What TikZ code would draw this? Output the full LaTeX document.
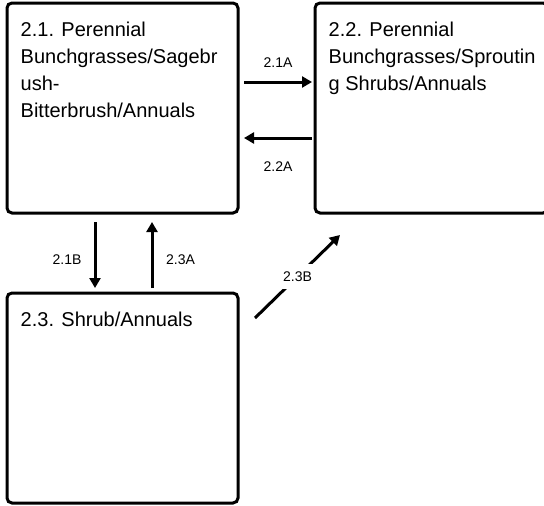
\documentclass[tikz,border=0pt]{standalone}
\usepackage{fontspec}
\setmainfont{Liberation Sans}
\usetikzlibrary{positioning,arrows.meta}
\begin{document}
\begin{tikzpicture}
[x=1pt, y=-1pt,
state/.style={draw, line width=3pt, rounded corners=5pt, minimum width=231pt, minimum height=210pt, inner sep=0pt, outer sep=0pt},
stext/.style={inner sep=0pt, align=left, font=\fontsize{20}{27}\selectfont},
flow/.style={line width=3pt, -{Triangle[length=10pt,width=11pt]}},
lbl/.style={font=\fontsize{14}{16}\selectfont, inner sep=2pt}
]
\useasboundingbox (0,0) rectangle (544,506);
\clip (0,0) rectangle (544,506);
\node[state] (s21) at (122.5,108) {};
\node[state, minimum width=233pt] (s22) at (431.5,108) {};
\node[state] (s23) at (122.5,398) {};
\node[stext, below right=19pt and 13.5pt of s21.north west] (t21) {2.1. Perennial\\Bunchgrasses/Sagebr\\ush-\\Bitterbrush/Annuals};
\node[stext, below right=19pt and 13.5pt of s22.north west] (t22) {2.2. Perennial\\Bunchgrasses/Sproutin\\g Shrubs/Annuals};
\node[stext, below right=19pt and 13.5pt of s23.north west] (t23) {2.3. Shrub/Annuals};
\draw[flow] ([xshift=6pt,yshift=26pt]s21.east) -- node[lbl,yshift=19pt] (a21a) {2.1A} ([xshift=-3pt,yshift=26pt]s22.west);
\draw[flow] ([xshift=-3pt,yshift=-30pt]s22.west) -- node[lbl,yshift=-29pt] (a22a) {2.2A} ([xshift=6pt,yshift=-30pt]s21.east);
\draw[flow] ([xshift=-27.5pt,yshift=-9pt]s21.south) -- node[lbl,xshift=-28pt,yshift=-5pt] (a21b) {2.1B} ([xshift=-27.5pt,yshift=5pt]s23.north);
\draw[flow] ([xshift=29.5pt,yshift=5pt]s23.north) -- node[lbl,xshift=28.5pt,yshift=-5pt] (a23a) {2.3A} ([xshift=29.5pt,yshift=-9pt]s21.south);
\draw[flow] ([xshift=17pt,yshift=-25pt]s23.north east) -- node[lbl,fill=white,inner ysep=8pt] (a23b) {2.3B} ([xshift=25pt,yshift=-22pt]s22.south west);
\end{tikzpicture}
\end{document}
